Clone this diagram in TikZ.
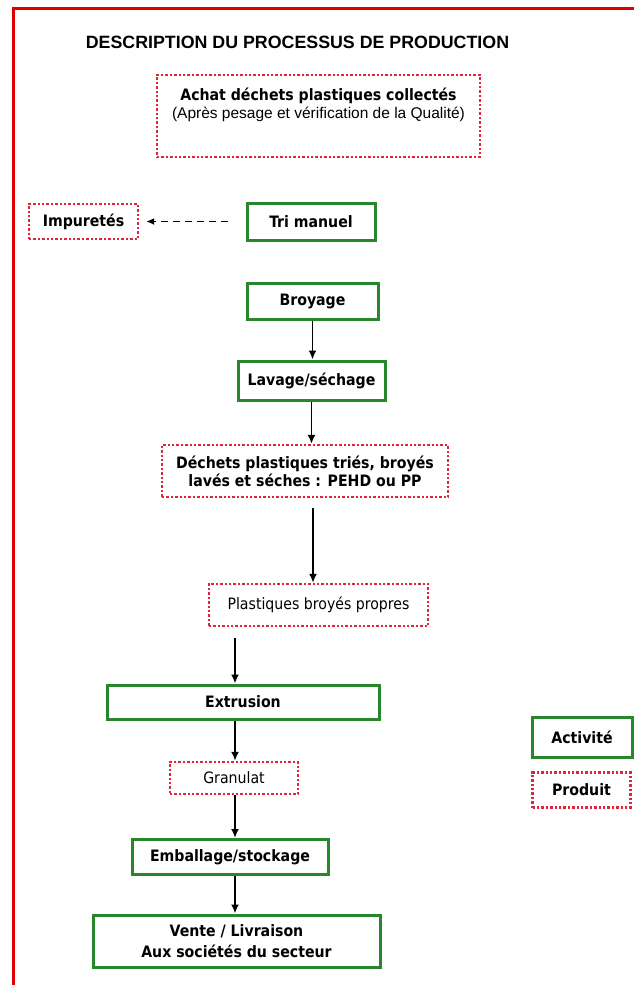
\documentclass[tikz,border=0pt]{standalone}
\usepackage{fontspec}
\setmainfont{DejaVu Sans Condensed}
\newfontfamily\arialfont{Liberation Sans}
\usetikzlibrary{arrows.meta}
\definecolor{actgreen}{RGB}{40,135,45}
\definecolor{prodred}{RGB}{225,35,60}
\definecolor{framered}{RGB}{220,0,0}

\begin{document}
\begin{tikzpicture}[x=1pt, y=-1pt,
        activite/.style={draw=actgreen, line width=3pt, inner sep=0pt, align=center,
            font=\fontsize{15.7}{18}\selectfont\bfseries},
        produit/.style={draw=prodred, line width=2.4pt, dash pattern=on 2.4pt off 2pt, inner sep=0pt,
            align=center, font=\fontsize{15.7}{18}\selectfont},
        flow/.style={-{Latex[length=9pt,width=8pt]}, line width=1.8pt},
        rebut/.style={-{Latex[length=8pt,width=7pt]}, line width=1.8pt, dash pattern=on 7pt off 5pt}]
        \useasboundingbox (0,0) rectangle (633,985);
        \draw[framered, line width=3.5pt] (13.5,1000) -- (13.5,8.5) -- (650,8.5);

        \node (titre) at (297.5,42) {\arialfont\fontsize{17.8}{20}\selectfont\bfseries DESCRIPTION DU PROCESSUS DE PRODUCTION};

        \node (achat) [produit, minimum width=323pt, minimum height=82pt, text depth=26pt] at (318.5,116)
            {\bfseries Achat déchets plastiques collectés\\{\arialfont\fontsize{15.5}{18}\selectfont (Après pesage et vérification de la Qualité)}};
        \node (tri) [activite, minimum width=128pt, minimum height=37pt] at (311,221.5) {Tri manuel};
        \node (impur) [produit, minimum width=109pt, minimum height=35pt] at (83.5,221.5) {\bfseries Impuretés};
        \node (broyage) [activite, minimum width=131pt, minimum height=36pt] at (312.5,301) {Broyage};
        \node (lavage) [activite, minimum width=147pt, minimum height=39pt] at (311.5,380.5) {Lavage/séchage};
        \node (dechets) [produit, minimum width=286pt, minimum height=52pt] at (305,471)
            {\bfseries Déchets plastiques triés, broyés\\\bfseries lavés et séches : PEHD ou PP};
        \node (plast) [produit, minimum width=219pt, minimum height=42pt] at (318.5,605) {Plastiques broyés propres};
        \node (extr) [activite, minimum width=272pt, minimum height=34pt] at (243,702) {Extrusion};
        \node (granulat) [produit, minimum width=128pt, minimum height=32pt] at (234,778) {Granulat};
        \node (emball) [activite, minimum width=196pt, minimum height=35pt] at (230,857) {Emballage/stockage};
        \node (vente) [activite, minimum width=287pt, minimum height=52pt, font=\fontsize{15.7}{21}\selectfont\bfseries] at (236.5,941)
            {Vente / Livraison\\Aux sociétés du secteur};

        \node (legact) [activite, minimum width=100pt, minimum height=40pt] at (582,737) {Activité};
        \node (legprod) [produit, minimum width=98pt, minimum height=35pt] at (581.5,790) {\bfseries Produit};

        \coordinate (colA) at (313,0);
        \coordinate (colB) at (235,0);

        \draw[rebut, shorten <=18pt, shorten >=7pt] (tri) -- (impur);
        \draw[flow] (broyage.south) -- (broyage.south |- lavage.north);
        \draw[flow] (lavage.south) -- (lavage.south |- dechets.north);
        \draw[flow, shorten <=10pt] (dechets.south -| colA) -- (plast.north -| colA);
        \draw[flow, shorten <=11pt] (plast.south -| colB) -- (extr.north -| colB);
        \draw[flow] (extr.south -| colB) -- (granulat.north -| colB);
        \draw[flow] (granulat.south -| colB) -- (emball.north -| colB);
        \draw[flow] (emball.south -| colB) -- (vente.north -| colB);
\end{tikzpicture}
\end{document}
